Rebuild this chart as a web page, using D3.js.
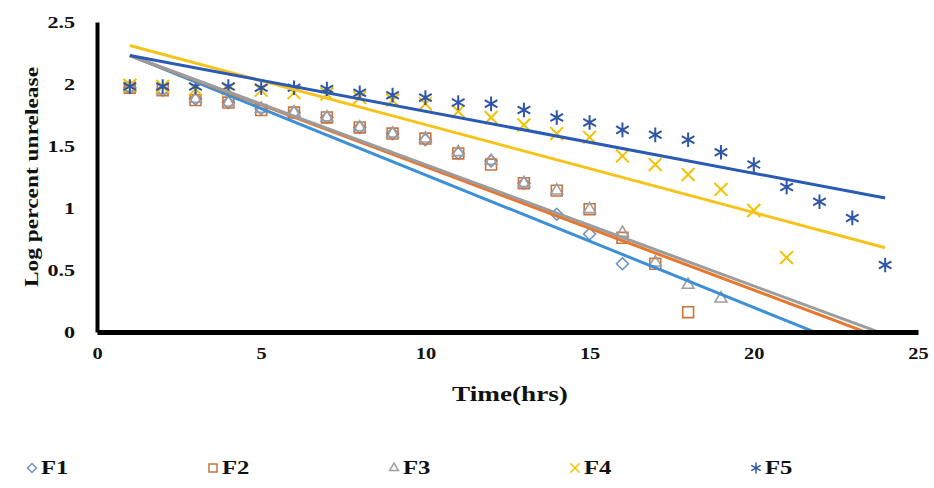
<!DOCTYPE html>
<html>
<head>
<meta charset="utf-8">
<script src="https://cdn.jsdelivr.net/npm/d3@7"></script>
<style>
  body { margin: 0; background: #fff; }
  text { font-family: "Liberation Serif", "Times New Roman", serif; font-weight: bold; fill: #111; }
</style>
</head>
<body>
<script>
// data
let seriesNames = ["F1", "F2", "F3", "F4", "F5"];
let f1 = [1.97, 1.95, 1.88, 1.85, 1.80, 1.77, 1.73, 1.65, 1.60, 1.55, 1.44, 1.38, 1.20, 0.95, 0.79, 0.55];
let f2 = [1.97, 1.95, 1.87, 1.85, 1.79, 1.77, 1.73, 1.65, 1.60, 1.56, 1.44, 1.35, 1.20, 1.14, 0.99, 0.76, 0.55, 0.16];
let f3 = [1.97, 1.95, 1.88, 1.85, 1.80, 1.77, 1.73, 1.65, 1.60, 1.56, 1.45, 1.38, 1.20, 1.14, 0.99, 0.80, 0.56, 0.38, 0.27];
let f4 = [1.99, 1.98, 1.96, 1.96, 1.95, 1.93, 1.92, 1.89, 1.87, 1.84, 1.78, 1.73, 1.67, 1.60, 1.57, 1.42, 1.35, 1.27, 1.15, 0.98, 0.60];
let f5 = [1.98, 1.98, 1.98, 1.98, 1.97, 1.97, 1.96, 1.93, 1.91, 1.89, 1.85, 1.84, 1.79, 1.73, 1.69, 1.63, 1.59, 1.55, 1.45, 1.35, 1.17, 1.05, 0.92, 0.54];
// linear trendlines, value at hour 1 and hour 24
let trendHours = [1, 24];
let trendStart = [2.23, 2.23, 2.23, 2.31, 2.23];
let trendEnd = [-0.23, -0.06, -0.02, 0.68, 1.08];
let xTicks = [0, 5, 10, 15, 20, 25];
let yTicks = [0, 0.5, 1, 1.5, 2, 2.5];

let values = [f1, f2, f3, f4, f5];
let colors = ["#6f93bf", "#c8743e", "#9e9e9e", "#f2c200", "#2f56a6"];
let lineColors = ["#3d8fd6", "#e8772e", "#9c9c9c", "#f7c31a", "#2a5ab4"];
let symbols = [d3.symbolDiamond2, d3.symbolSquare2, d3.symbolTriangle2, d3.symbolX, d3.symbolAsterisk];
let symSizes = [90, 150, 100, 110, 150];

let width = 934, height = 488;
let x = d3.scaleLinear().domain([0, 25]).range([97, 918]);
let y = d3.scaleLinear().domain([0, 2.5]).range([332, 22]);

// the picture's bold serif looks widened, so stretch each text horizontally
let stretch = (sel, k) =>
  sel.each(function() {
    let w = this.getComputedTextLength();
    d3.select(this).attr("textLength", w * k).attr("lengthAdjust", "spacingAndGlyphs");
  });

let svg = d3.select("body").append("svg").attr("width", width).attr("height", height);

svg.append("clipPath").attr("id", "plot")
  .append("rect").attr("x", 97).attr("y", 10).attr("width", 830).attr("height", 322);

// markers
values.forEach((vals, i) => {
  svg.append("g")
    .selectAll("path")
    .data(vals)
    .enter()
    .append("path")
    .attr("transform", (d, j) => `translate(${x(j + 1)},${y(d)})`)
    .attr("d", d3.symbol().type(symbols[i]).size(symSizes[i]))
    .attr("fill", "none")
    .attr("stroke", colors[i])
    .attr("stroke-width", i >= 3 ? 2 : 1.6);
});

// trendlines
let line = d3.line().x(d => x(d[0])).y(d => y(d[1]));
seriesNames.forEach((name, i) => {
  svg.append("path")
    .datum([[trendHours[0], trendStart[i]], [trendHours[1], trendEnd[i]]])
    .attr("clip-path", "url(#plot)")
    .attr("d", line)
    .attr("fill", "none")
    .attr("stroke", lineColors[i])
    .attr("stroke-width", 3);
});

// axes
let xAxis = g =>
  g.attr("transform", `translate(0,${y(0)})`)
    .call(d3.axisBottom(x).tickValues(xTicks).tickSize(0).tickPadding(15).tickFormat(d3.format("d")))
    .call(g => g.select(".domain").attr("stroke", "#000").attr("stroke-width", 5))
    .call(g => g.selectAll("text").attr("font-size", 17).attr("fill", "#111")
      .style("font-family", "'Liberation Serif', serif").style("font-weight", "bold"));

let yAxis = g =>
  g.attr("transform", `translate(${x(0)},0)`)
    .call(d3.axisLeft(y).tickValues(yTicks).tickSize(0).tickPadding(22).tickFormat(d => d))
    .call(g => g.select(".domain").attr("stroke", "#000").attr("stroke-width", 4))
    .call(g => g.selectAll("text").attr("font-size", 17).attr("fill", "#111")
      .style("font-family", "'Liberation Serif', serif").style("font-weight", "bold"));

let gx = svg.append("g").call(xAxis);
let gy = svg.append("g").call(yAxis);
stretch(gx.selectAll("text"), 1.2);
stretch(gy.selectAll("text"), 1.3);

svg.append("text")
  .attr("x", 510).attr("y", 401)
  .attr("text-anchor", "middle")
  .attr("font-size", 20)
  .text("Time(hrs)")
  .call(stretch, 1.36);

svg.append("text")
  .attr("transform", "translate(38,177) rotate(-90)")
  .attr("text-anchor", "middle")
  .attr("font-size", 18)
  .text("Log percent unrelease")
  .call(stretch, 1.3);

// legend
let legend = svg.append("g").selectAll("g")
  .data(seriesNames)
  .enter()
  .append("g")
  .attr("transform", (d, i) => `translate(${32 + i * 181},468)`);

legend.append("path")
  .attr("d", (d, i) => d3.symbol().type(symbols[i]).size(symSizes[i] * 0.55)())
  .attr("fill", "none")
  .attr("stroke", (d, i) => colors[i])
  .attr("stroke-width", 1.5);

legend.append("text")
  .attr("x", 9).attr("y", 6)
  .attr("font-size", 19)
  .text(d => d)
  .call(stretch, 1.3);
</script>
</body>
</html>
